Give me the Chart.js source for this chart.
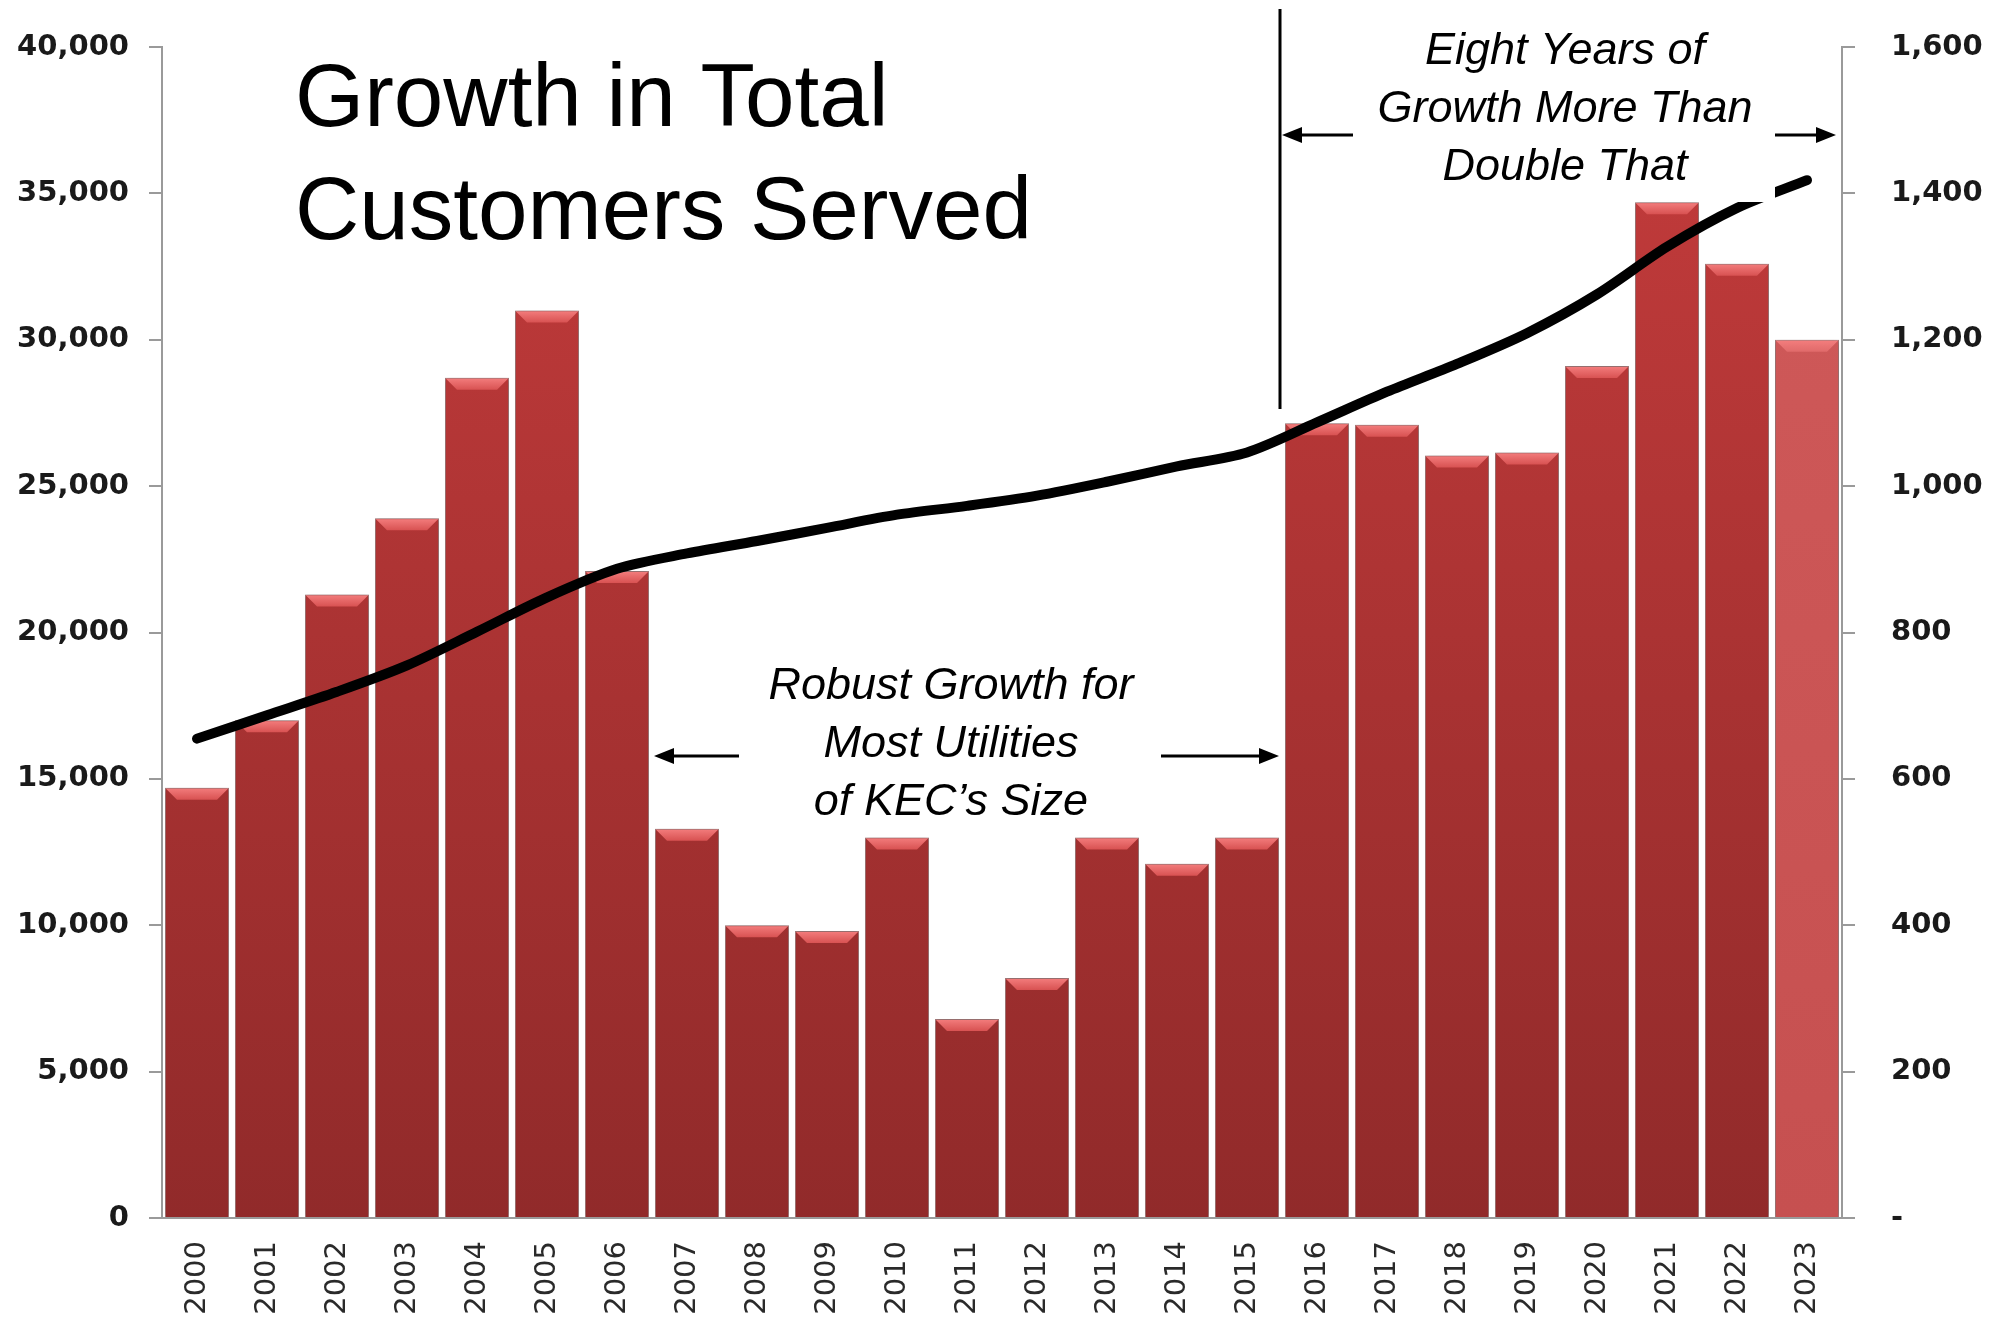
<!DOCTYPE html>
<html>
<head>
<meta charset="utf-8">
<script src="https://cdn.jsdelivr.net/npm/chart.js@4.4.1/dist/chart.umd.min.js"></script>
<style>
  html, body { margin: 0; padding: 0; background: #fff; }
  #chartCanvas { display: block; }
</style>
</head>
<body>
<canvas id="chartCanvas" width="2010" height="1319" style="width:2010px;height:1319px"></canvas>
<script>
/********** DATA **********/
const years = ["2000", "2001", "2002", "2003", "2004", "2005", "2006", "2007", "2008", "2009", "2010", "2011",
               "2012", "2013", "2014", "2015", "2016", "2017", "2018", "2019", "2020", "2021", "2022", "2023"];

// bars, left axis
const newCustomers = [14700, 17000, 21300, 23900, 28700, 31000, 22100, 13300, 10000, 9800, 13000, 6800,
                      8200, 13000, 12100, 13000, 27150, 27100, 26050, 26150, 29100, 34700, 32600, 30000];

// black line, right axis
const totalServed = [655, 687, 719, 755, 801, 848, 887, 908, 925, 943, 961, 973,
                     987, 1006, 1027, 1046, 1087, 1129, 1167, 1209, 1262, 1327, 1380, 1418];

const titleLines = ["Growth in Total", "Customers Served"];
const robustLines = ["Robust Growth for", "Most Utilities", "of KEC\u2019s Size"];
const eightLines = ["Eight Years of", "Growth More Than", "Double That"];

/********** HELPERS **********/
function barFill(context) {
  const chart = context.chart;
  const area = chart.chartArea;
  const last = context.dataIndex === years.length - 1;
  if (!area) return last ? "#cc5555" : "#b33535";
  const g = chart.ctx.createLinearGradient(0, area.top, 0, area.bottom);
  if (last) {
    g.addColorStop(0, "#d05a5a");
    g.addColorStop(1, "#c65050");
  } else {
    g.addColorStop(0, "#c53c3c");
    g.addColorStop(1, "#912a2a");
  }
  return g;
}

function arrow(ctx, x1, x2, y) {
  // shaft from x1 to x2, head at x2
  const dir = x2 > x1 ? 1 : -1;
  ctx.beginPath();
  ctx.moveTo(x1, y);
  ctx.lineTo(x2 - dir * 14, y);
  ctx.stroke();
  ctx.beginPath();
  ctx.moveTo(x2, y);
  ctx.lineTo(x2 - dir * 20, y - 8);
  ctx.lineTo(x2 - dir * 20, y + 8);
  ctx.closePath();
  ctx.fill();
}

// y axes: fixed width, and no extra top/bottom padding from the tick labels
function fixWidth(w) {
  return scale => {
    scale.width = w;
    scale.paddingTop = 0;
    scale.paddingBottom = 0;
  };
}

/********** PLUGINS **********/
const decorPlugin = {
  id: "decor",
  beforeDraw(chart) {
    const ctx = chart.ctx;
    ctx.save();
    ctx.fillStyle = "#ffffff";
    ctx.fillRect(0, 0, chart.width, chart.height);
    ctx.restore();
  },
  beforeDatasetDraw(chart, args) {
    if (args.index !== 0) return;
    const ctx = chart.ctx;
    ctx.save();
    ctx.shadowColor = "rgba(0,0,0,0.3)";
    ctx.shadowBlur = 6;
  },
  afterDatasetDraw(chart, args) {
    if (args.index !== 0) return;
    const ctx = chart.ctx;
    ctx.restore();
    // light bevel on the top of every bar
    args.meta.data.forEach((bar, i) => {
      const half = bar.width / 2;
      const d = 12;
      const g = ctx.createLinearGradient(0, bar.y, 0, bar.y + d);
      g.addColorStop(0, "#f47e7e");
      g.addColorStop(1, i === years.length - 1 ? "#e06a6a" : "#d85252");
      ctx.save();
      ctx.fillStyle = g;
      ctx.beginPath();
      ctx.moveTo(bar.x - half + 1, bar.y + 1);
      ctx.lineTo(bar.x + half - 1, bar.y + 1);
      ctx.lineTo(bar.x + half - d, bar.y + d);
      ctx.lineTo(bar.x - half + d, bar.y + d);
      ctx.closePath();
      ctx.fill();
      ctx.restore();
    });
  },
  afterDatasetsDraw(chart) {
    const ctx = chart.ctx;
    ctx.save();

    // white box behind the top-right note
    ctx.fillStyle = "#ffffff";
    ctx.fillRect(1290, 0, 485, 202);

    // title
    ctx.fillStyle = "#000";
    ctx.textAlign = "left";
    ctx.textBaseline = "alphabetic";
    ctx.font = '89px "Liberation Sans", Arial, sans-serif';
    ctx.fillText(titleLines[0], 295, 126);
    ctx.fillText(titleLines[1], 295, 239);

    // notes
    ctx.font = 'italic 45px "Liberation Sans", Arial, sans-serif';
    ctx.textAlign = "center";
    robustLines.forEach((t, i) => ctx.fillText(t, 951, 699 + i * 58));
    eightLines.forEach((t, i) => ctx.fillText(t, 1565, 64 + i * 58));

    // divider
    ctx.strokeStyle = "#000";
    ctx.lineWidth = 3;
    ctx.beginPath();
    ctx.moveTo(1280, 9);
    ctx.lineTo(1280, 409);
    ctx.stroke();

    // arrows
    ctx.fillStyle = "#000";
    ctx.lineWidth = 3;
    arrow(ctx, 739, 654, 756);
    arrow(ctx, 1161, 1279, 756);
    arrow(ctx, 1353, 1282, 135);
    arrow(ctx, 1775, 1836, 135);

    ctx.restore();
  }
};

/********** CHART.JS SETUP **********/
const axisGray = "#9a9a9a";
const tickFont = { family: '"DejaVu Sans", sans-serif', size: 29, weight: "bold" };

const ctx = document.getElementById("chartCanvas").getContext("2d");
new Chart(ctx, {
  data: {
    labels: years,
    datasets: [
      {
        type: "bar",
        label: "New customers",
        data: newCustomers,
        yAxisID: "y",
        backgroundColor: barFill,
        borderColor: "rgba(110,25,25,0.55)",
        borderWidth: 1,
        borderSkipped: "bottom",
        barPercentage: 0.915,
        categoryPercentage: 1.0,
        order: 1
      },
      {
        type: "line",
        label: "Total customers served",
        data: totalServed,
        yAxisID: "y1",
        borderColor: "#000",
        borderWidth: 10,
        borderCapStyle: "round",
        borderJoinStyle: "round",
        pointRadius: 0,
        tension: 0.3,
        fill: false,
        order: 0
      }
    ]
  },
  options: {
    responsive: false,
    animation: false,
    devicePixelRatio: 1,
    layout: { padding: { top: 47, left: 0, right: 0, bottom: 0 } },
    plugins: {
      legend: { display: false },
      tooltip: { enabled: false }
    },
    scales: {
      x: {
        grid: { display: false, drawTicks: false },
        border: { color: axisGray, width: 2 },
        ticks: {
          maxRotation: 90,
          minRotation: 90,
          padding: 23,
          color: "#2a2a2a",
          font: { family: '"DejaVu Sans", sans-serif', size: 29 }
        },
        afterFit(scale) { scale.height = 101; }
      },
      y: {
        position: "left",
        min: 0,
        max: 40000,
        ticks: {
          stepSize: 5000,
          padding: 20,
          color: "#1a1a1a",
          font: tickFont,
          callback: v => v.toLocaleString("en-US")
        },
        grid: { drawOnChartArea: false, drawTicks: true, tickLength: 13, color: axisGray, lineWidth: 2 },
        border: { color: axisGray, width: 2 },
        afterFit: fixWidth(162)
      },
      y1: {
        position: "right",
        min: 0,
        max: 1600,
        ticks: {
          stepSize: 200,
          padding: 36,
          color: "#1a1a1a",
          font: tickFont,
          callback: v => (v === 0 ? "-" : v.toLocaleString("en-US"))
        },
        grid: { drawOnChartArea: false, drawTicks: true, tickLength: 13, color: axisGray, lineWidth: 2 },
        border: { color: axisGray, width: 2 },
        afterFit: fixWidth(168)
      }
    }
  },
  plugins: [decorPlugin]
});
</script>
</body>
</html>
